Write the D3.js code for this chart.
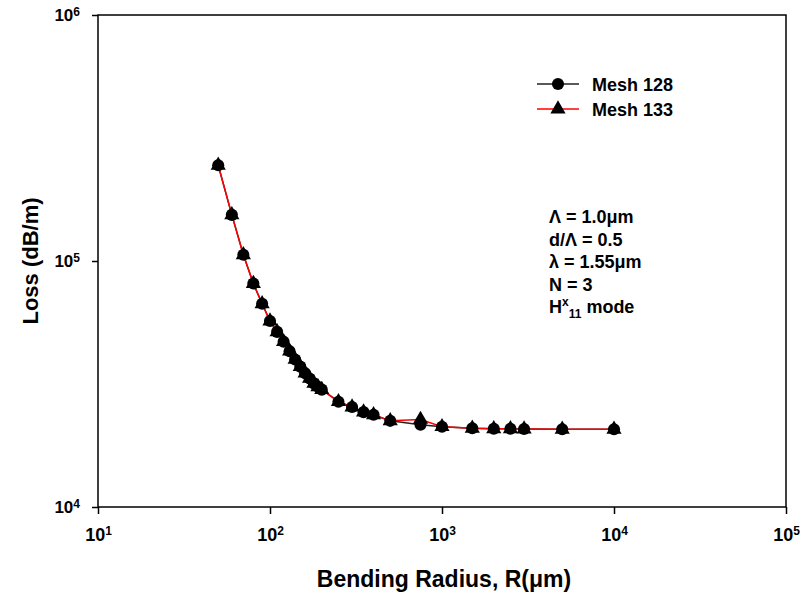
<!DOCTYPE html>
<html>
<head>
<meta charset="utf-8">
<script src="https://cdn.jsdelivr.net/npm/d3@7"></script>
<style>
  body { margin: 0; background: #fff; }
  text { font-family: "Liberation Sans", Arial, sans-serif; font-weight: bold; fill: #000; }
</style>
</head>
<body>
<svg id="chart"></svg>
<script>
// bending radius (um)
var radius = [50, 60, 70, 80, 90, 100, 110, 120, 130, 140, 150, 160, 170, 180, 190, 200,
              250, 300, 350, 400, 500, 750, 1000, 1500, 2000, 2500, 3000, 5000, 10000];

// loss (dB/m)
var loss128 = [245000, 154000, 106000, 81000, 67000, 57000, 51500, 47000, 43000, 39800, 37200, 35000, 33300, 31800, 30800, 30000,
               26800, 25500, 24300, 23700, 22400, 21600, 21200, 20900, 20800, 20800, 20750, 20700, 20700];
var loss133 = [245000, 154000, 106000, 81000, 67000, 57000, 51500, 47000, 43000, 39800, 37200, 35000, 33300, 31800, 30800, 30000,
               26800, 25500, 24300, 23700, 22400, 22700, 21200, 20900, 20800, 20800, 20750, 20700, 20700];

var xTicks = [10, 100, 1000, 10000, 100000];
var yTicks = [10000, 100000, 1000000];

var seriesNames = ["Mesh 128", "Mesh 133"];
var seriesColors = ["#222", "#ff0000"];

var notes = ["Λ = 1.0μm", "d/Λ = 0.5", "λ = 1.55μm", "N = 3"];

var screen = {width: 803, height: 596};
var margins = {top: 15, left: 98, right: 17, bottom: 89};
var graph = {
    width: screen.width - margins.left - margins.right,
    height: screen.height - margins.top - margins.bottom
};

var svg = d3.select("#chart")
    .attr("width", screen.width)
    .attr("height", screen.height);

var xScale = d3.scaleLog().domain([10, 100000]).range([0, graph.width]);
var yScale = d3.scaleLog().domain([10000, 1000000]).range([graph.height, 0]);

var g = svg.append("g")
    .attr("transform", "translate(" + margins.left + "," + margins.top + ")");

// frame
g.append("rect")
    .attr("width", graph.width)
    .attr("height", graph.height)
    .attr("fill", "none")
    .attr("stroke", "#000")
    .attr("stroke-width", 1.5);

var powerLabel = function(sel) {
    sel.each(function(d) {
        var t = d3.select(this).text(null);
        t.append("tspan").text("10");
        t.append("tspan").attr("dy", "-0.45em").attr("font-size", "12px")
            .text(Math.round(Math.log10(d)));
    });
};

var xAxis = g.append("g")
    .attr("transform", "translate(0," + graph.height + ")")
    .call(d3.axisBottom(xScale).tickValues(xTicks).tickSize(7).tickPadding(14).tickFormat(function(){ return ""; }));
xAxis.select(".domain").remove();
xAxis.selectAll("line").attr("stroke-width", 1.5);
xAxis.selectAll("text").attr("font-size", "18px").call(powerLabel);

var yAxis = g.append("g")
    .call(d3.axisLeft(yScale).tickValues(yTicks).tickSize(6).tickPadding(12).tickFormat(function(){ return ""; }));
yAxis.select(".domain").remove();
yAxis.selectAll("line").attr("stroke-width", 1.5);
yAxis.selectAll("text").attr("font-size", "17px").call(powerLabel);

// axis titles
svg.append("text")
    .attr("x", margins.left + xScale(1000) + 2)
    .attr("y", 587)
    .attr("text-anchor", "middle")
    .attr("font-size", "23px")
    .text("Bending Radius, R(μm)");

svg.append("text")
    .attr("transform", "translate(38," + (margins.top + yScale(100000)) + ") rotate(-90)")
    .attr("text-anchor", "middle")
    .attr("font-size", "22px")
    .text("Loss (dB/m)");

// lines and markers
var line = d3.line()
    .x(function(d) { return xScale(d[0]); })
    .y(function(d) { return yScale(d[1]); });

var pts128 = radius.map(function(r, i) { return [r, loss128[i]]; });
var pts133 = radius.map(function(r, i) { return [r, loss133[i]]; });

g.append("path").datum(pts128)
    .attr("d", line).attr("fill", "none")
    .attr("stroke", seriesColors[0]).attr("stroke-width", 1.5);
g.append("path").datum(pts133)
    .attr("d", line).attr("fill", "none")
    .attr("stroke", seriesColors[1]).attr("stroke-width", 1.5);

var circle = d3.symbol().type(d3.symbolCircle).size(115);
var tri = d3.symbol().type(d3.symbolTriangle).size(100);

g.selectAll(".c128").data(pts128).enter().append("path")
    .attr("class", "c128")
    .attr("d", circle)
    .attr("transform", function(d) { return "translate(" + xScale(d[0]) + "," + yScale(d[1]) + ")"; })
    .attr("fill", "#000");

g.selectAll(".t133").data(pts133).enter().append("path")
    .attr("class", "t133")
    .attr("d", tri)
    .attr("transform", function(d) { return "translate(" + xScale(d[0]) + "," + yScale(d[1]) + ")"; })
    .attr("fill", "#000");

// legend
var legend = svg.append("g").attr("transform", "translate(537,84)");
seriesNames.forEach(function(name, i) {
    var row = legend.append("g").attr("transform", "translate(0," + (i * 25) + ")");
    row.append("line").attr("x1", 0).attr("x2", 42).attr("y1", 0).attr("y2", 0)
        .attr("stroke", seriesColors[i]).attr("stroke-width", 1.5);
    row.append("path").attr("d", i === 0 ? circle : tri)
        .attr("transform", "translate(21,0)").attr("fill", "#000");
    row.append("text").attr("x", 55).attr("y", 6.5).attr("font-size", "18px").text(name);
});

// parameter notes
var noteG = svg.append("g").attr("transform", "translate(549,223)");
notes.forEach(function(n, i) {
    noteG.append("text").attr("y", i * 22.5).attr("font-size", "18px").text(n);
});
var mode = noteG.append("text").attr("y", 4 * 22.5).attr("font-size", "18px");
mode.append("tspan").text("H");
mode.append("tspan").attr("dy", "-7").attr("font-size", "12px").text("x");
mode.append("tspan").attr("dy", "12").attr("font-size", "12px").text("11");
mode.append("tspan").attr("dy", "-5").text(" mode");
</script>
</body>
</html>
